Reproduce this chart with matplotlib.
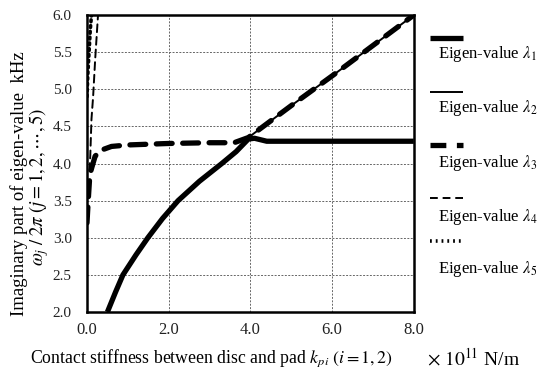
import matplotlib
matplotlib.use("Agg")
import matplotlib.pyplot as plt
from matplotlib.lines import Line2D

plt.rcParams['font.family'] = ['Liberation Serif', 'DejaVu Serif']
plt.rcParams['mathtext.fontset'] = 'stix'

# data (x: contact stiffness x1e11 N/m, y: kHz)
x1 = [0.5, 0.7, 0.88, 1.2, 1.49, 1.85, 2.23, 2.75, 3.3, 3.65, 3.95, 4.1, 4.4, 5.0, 6.0, 7.0, 8.0]
y1 = [2.0, 2.27, 2.5, 2.77, 3.0, 3.26, 3.5, 3.76, 4.0, 4.16, 4.33, 4.34, 4.3, 4.3, 4.3, 4.3, 4.3]

x2 = [3.95, 5.0, 6.0, 7.0, 8.0]
y2 = [4.35, 4.78, 5.18, 5.59, 6.0]

x3 = [0.0, 0.03, 0.07, 0.12, 0.2, 0.35, 0.6, 1.0, 2.0, 3.0, 3.6, 3.95, 5.0, 6.0, 7.0, 8.0]
y3 = [3.2, 3.5, 3.85, 3.95, 4.1, 4.18, 4.23, 4.25, 4.27, 4.28, 4.28, 4.35, 4.78, 5.18, 5.59, 6.0]

x4 = [0.06, 0.08, 0.11, 0.15, 0.2, 0.27]
y4 = [3.9, 4.1, 4.6, 4.9, 5.4, 6.0]

x5 = [0.0, 0.02, 0.05, 0.08, 0.11]
y5 = [4.9, 5.2, 5.5, 5.8, 6.0]

xticks = [0.0, 2.0, 4.0, 6.0, 8.0]
yticks = [2.0, 2.5, 3.0, 3.5, 4.0, 4.5, 5.0, 5.5, 6.0]

fig = plt.figure(figsize=(5.42, 3.74), dpi=100)
ax = fig.add_axes([0.1605, 0.1658, 0.603, 0.794])

styles = [
    dict(lw=3.8, ls='-'),
    dict(lw=1.4, ls='-'),
    dict(lw=3.8, ls=(0, (3, 2))),
    dict(lw=1.4, ls=(0, (4, 2.5))),
    dict(lw=2.6, ls=(0, (0.5, 1.1))),
]
series = [(x1, y1), (x2, y2), (x3, y3), (x4, y4), (x5, y5)]
for (xs, ys), st in zip(series, styles):
    ax.plot(xs, ys, color='black', solid_capstyle='butt', dash_capstyle='round', **st)

ax.set_xlim(0, 8)
ax.set_ylim(2, 6)
ax.set_xticks(xticks)
ax.set_yticks(yticks)
ax.set_xticklabels([f"{v:.1f}" for v in xticks], fontsize=12)
ax.set_yticklabels([f"{v:.1f}" for v in yticks], fontsize=11)
ax.tick_params(axis='y', length=0, pad=11, colors='#222222')
ax.tick_params(axis='x', length=0, pad=7, colors='#222222')
ax.grid(True, color='#666666', ls=(0, (2, 1.5)), lw=0.7)
for s in ax.spines.values():
    s.set_linewidth(1.8)

# y label (two lines)
fig.text(0.036, 0.51, "Imaginary part of eigen-value  kHz", rotation=90,
         ha='center', va='center', fontsize=13.5)
fig.text(0.072, 0.50, r"$\omega_j\;/\;2\pi\ (j=1,2,\cdots,5)$", rotation=90,
         ha='center', va='center', fontsize=13.5)

# x label
fig.text(0.055, 0.043, r"Contact stiffness between disc and pad $k_{pi}\ (i=1,2)$",
         ha='left', va='center', fontsize=12.8)
fig.text(0.788, 0.043, r"$\times$ $10^{11}$ N/m", ha='left', va='center', fontsize=14)

# manual legend to the right of the plot
labels = [r"Eigen-value $\lambda_1$", r"Eigen-value $\lambda_2$", r"Eigen-value $\lambda_3$",
          r"Eigen-value $\lambda_4$", r"Eigen-value $\lambda_5$"]
line_y = [38, 92, 145, 198, 241]
text_y = [54, 108, 163, 217, 269]
for st, lab, ly, ty in zip(styles, labels, line_y, text_y):
    fig.add_artist(Line2D([430 / 542, 463 / 542], [1 - ly / 374, 1 - ly / 374],
                          color='black', solid_capstyle='butt', **st))
    fig.text(438 / 542, 1 - ty / 374, lab, ha='left', va='center', fontsize=12)

fig.savefig("out.png", dpi=100)
